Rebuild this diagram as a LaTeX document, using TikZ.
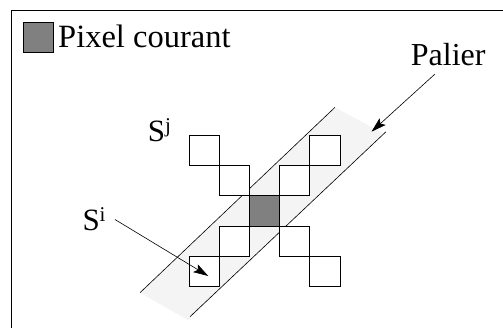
\documentclass[tikz,border=0pt]{standalone}
\usepackage{fontspec}
\setmainfont{Liberation Serif}
\usetikzlibrary{arrows.meta}
\begin{document}
\begin{tikzpicture}[x=1pt,y=-1pt,
  cell/.style={draw=black,line width=0.9pt,minimum size=30.2pt,inner sep=0pt,anchor=north west,fill=white},
  curcell/.style={cell,fill=curgray},
  lbl/.style={inner sep=0pt,anchor=base west,font=\fontsize{32.5}{32.5}\selectfont},
  slbl/.style={inner sep=0pt,anchor=base west,font=\fontsize{31}{31}\selectfont},
  bandline/.style={line width=0.6pt},
  ptr/.style={line width=0.6pt,-{Stealth[length=15pt,width=9pt,inset=3pt]}}]
\definecolor{curgray}{HTML}{808080}
\definecolor{bandgray}{HTML}{F4F4F4}
\useasboundingbox (0,0) rectangle (503,327);
\fill[white] (0,0) rectangle (503,327);
% frame
\draw[line width=0.9pt] (11.7,330) -- (11.7,10.3) -- (506,10.3);
% legend
\node[curcell,minimum size=29.8pt] (leg) at (22.7,21.9) {};
\node[lbl] (legtxt) at (58,47) {Pixel courant};
% band
\fill[bandgray] (140,292.7) -- (335,107.3) -- (384,134) -- (188,320) -- cycle;
\coordinate (u1) at (140,292.7);
\coordinate (u2) at (335,107.3);
\coordinate (l1) at (190,316.7);
\coordinate (l2) at (386,131.7);
\draw[bandline] (u1) -- (u2);
\draw[bandline] (l1) -- (l2);
% cells
\node[cell] (c11) at (188.5,134.9) {};
\node[cell] (c22) at (218.7,165.1) {};
\node[cell] (c15) at (309.3,134.9) {};
\node[cell] (c24) at (279.1,165.1) {};
\node[curcell] (c33) at (248.9,195.3) {};
\node[cell] (c42) at (218.7,225.5) {};
\node[cell] (c51) at (188.5,255.7) {};
\node[cell] (c44) at (279.1,225.5) {};
\node[cell] (c55) at (309.3,255.7) {};
% labels
\node[lbl,font=\fontsize{32}{32}\selectfont] (palier) at (410.7,65) {Palier};
\node[slbl] (si) at (82.3,230.5) {S\raisebox{9.5pt}{\fontsize{21}{21}\selectfont i}};
\node[slbl] (sj) at (147.7,141.7) {S\raisebox{9pt}{\fontsize{21}{21}\selectfont j}};
% arrows
\coordinate (pa) at (435,74);
\coordinate (pb) at (371.5,131.7);
\coordinate (sa) at (115,219.5);
\coordinate (sb) at (208.3,276);
\draw[ptr] (pa) -- (pb);
\draw[ptr] (sa) -- (sb);
\end{tikzpicture}
\end{document}
